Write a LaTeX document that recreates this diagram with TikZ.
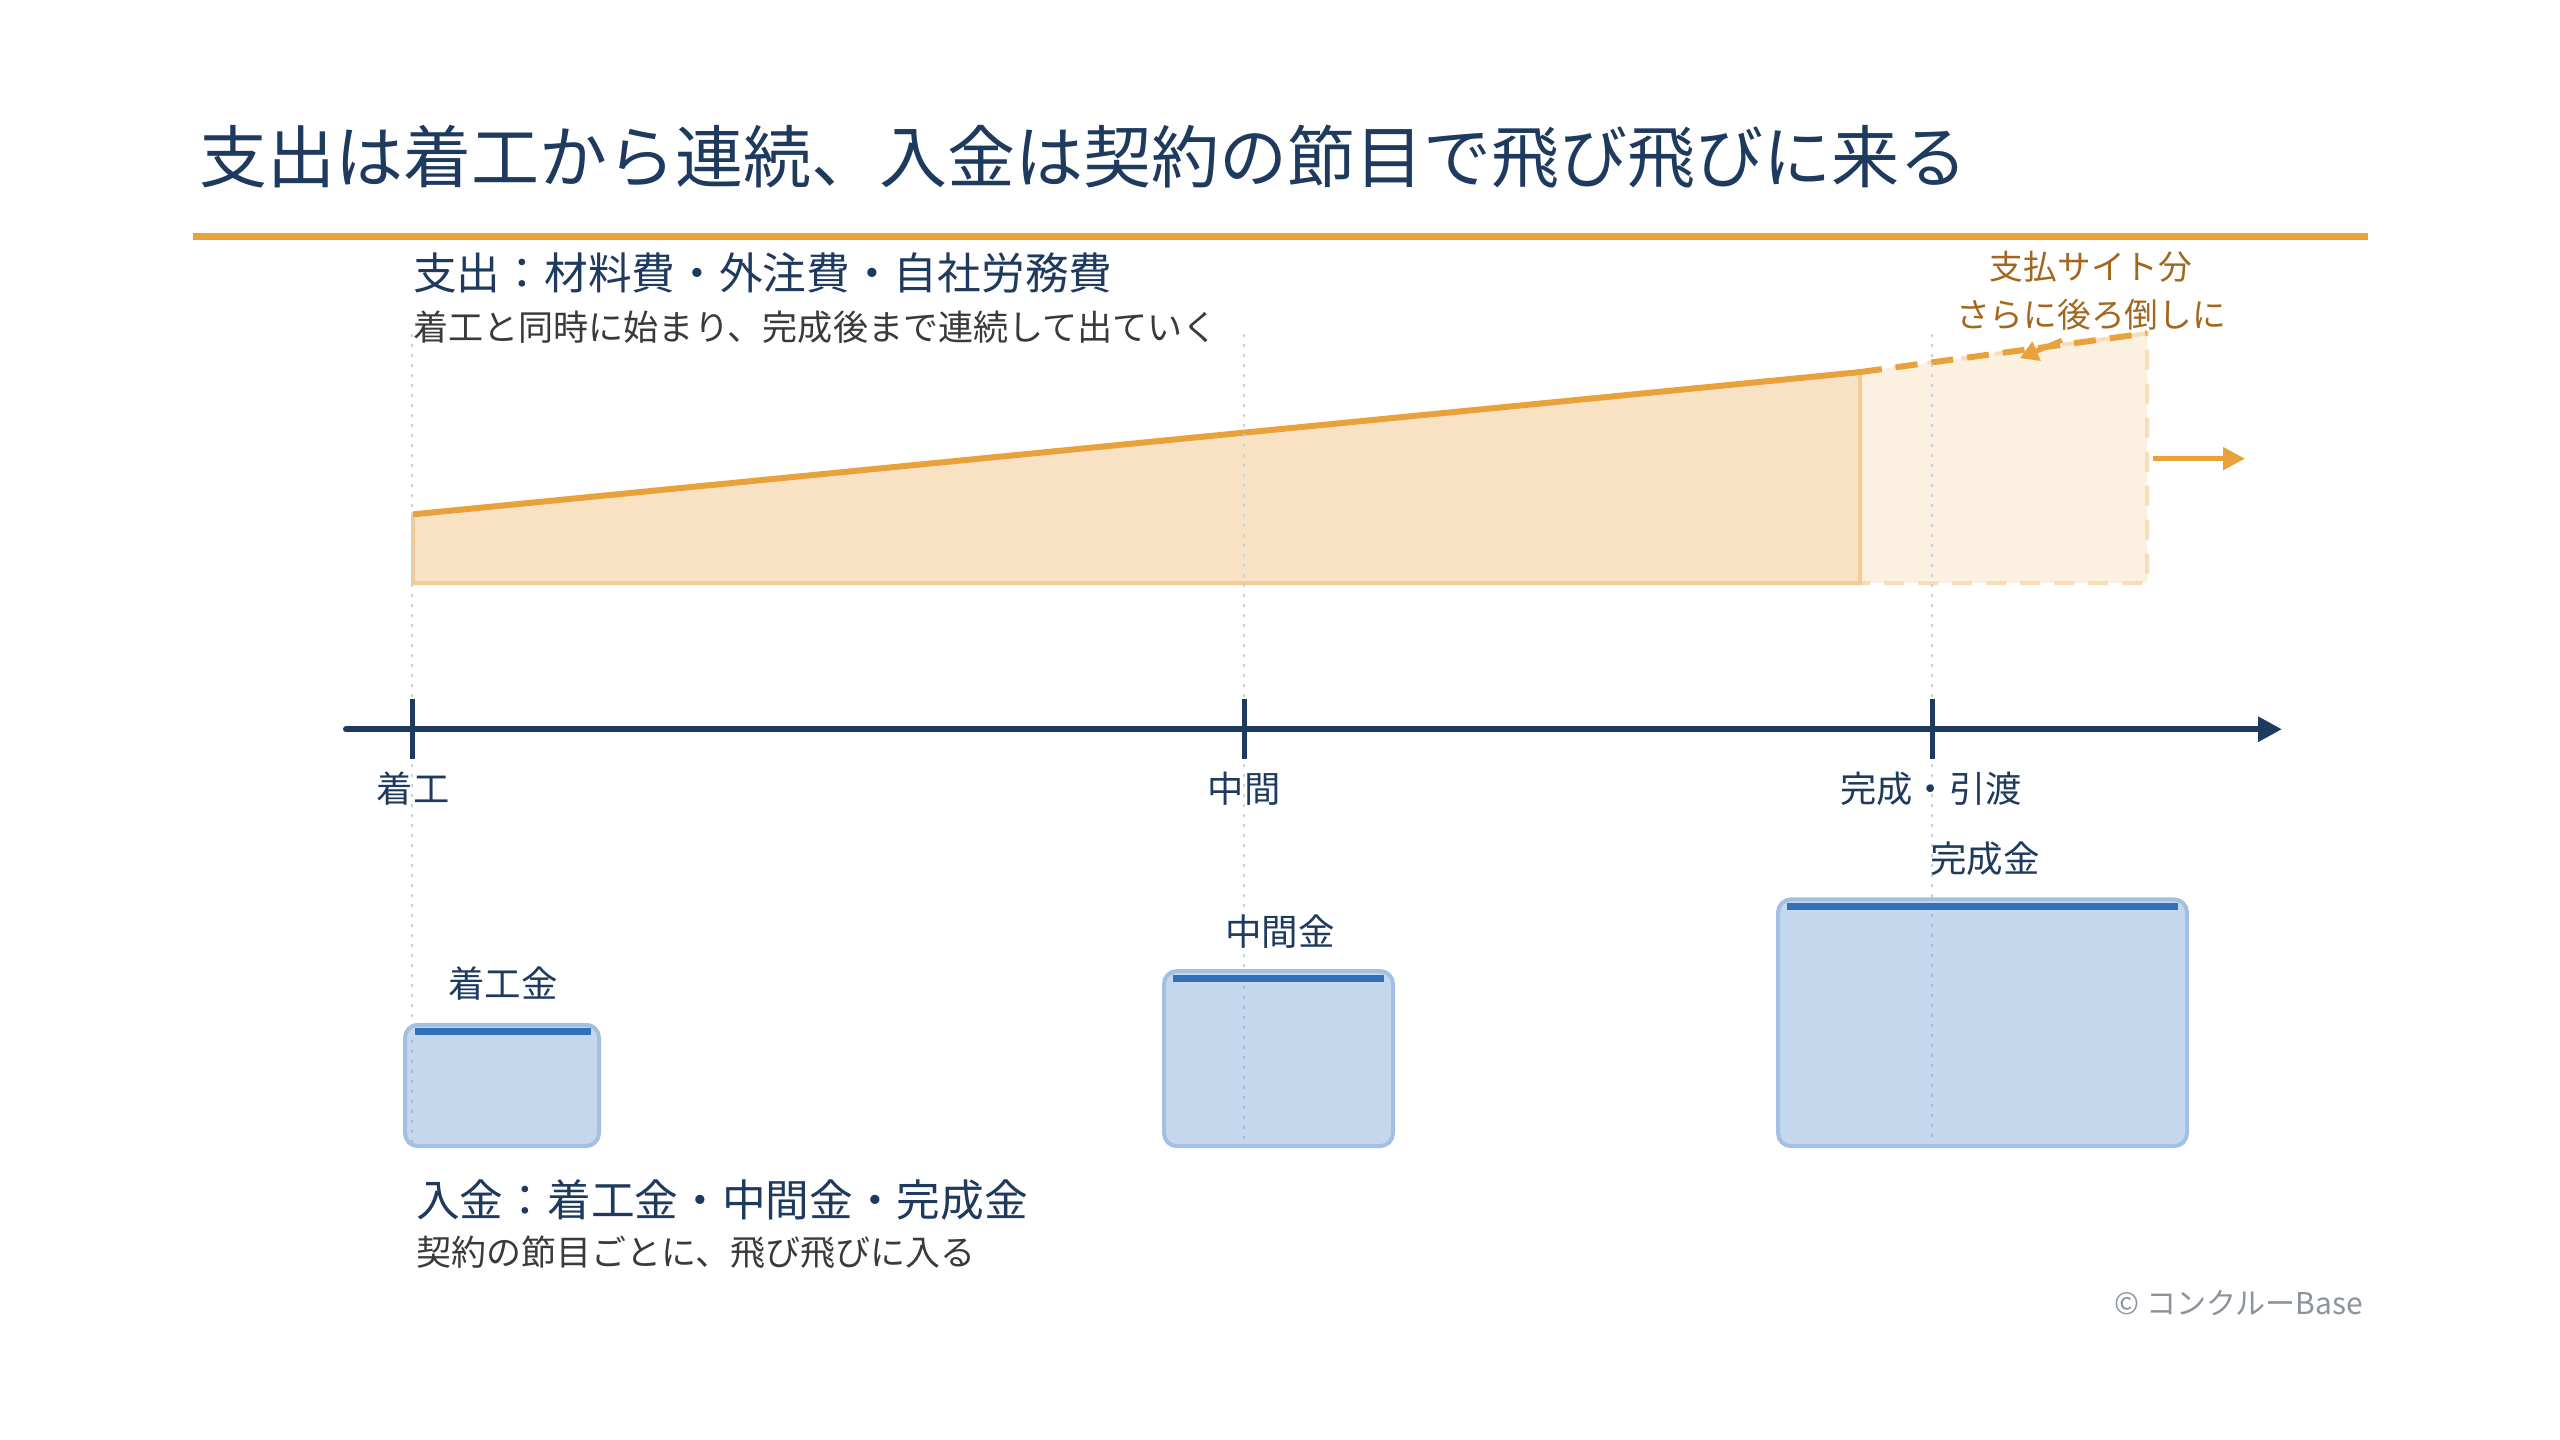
\documentclass[tikz,border=0pt]{standalone}
\usepackage{fontspec}
\setmainfont{Noto Sans CJK JP}
\usetikzlibrary{arrows.meta}
\definecolor{navy}{HTML}{1E3A5F}
\definecolor{orangeM}{HTML}{E9A23B}
\definecolor{orangeFill}{HTML}{F8E2C3}
\definecolor{orangeEdge}{HTML}{F2CB95}
\definecolor{paleFill}{HTML}{FCF0E1}
\definecolor{paleEdge}{HTML}{F8DDB8}
\definecolor{brownT}{HTML}{A2671C}
\definecolor{blueFill}{HTML}{C5D7EC}
\definecolor{blueEdge}{HTML}{A3C0E3}
\definecolor{blueBar}{HTML}{3271B8}
\definecolor{guideC}{HTML}{C9D2DF}
\definecolor{guideIn}{HTML}{A9BCD6}
\definecolor{grayT}{HTML}{3A3A3A}
\definecolor{copyC}{HTML}{8C939C}
\newcommand\myfs[1]{\fontsize{#1}{#1}\selectfont}
\tikzset{
  txt/.style={inner sep=0pt, text=navy},
  guide/.style={draw=guideC, line width=2.5pt, dash pattern=on 3pt off 7pt},
  tick/.style={draw=navy, line width=5pt},
  paybox/.style={fill=blueFill, draw=blueEdge, line width=4pt, rounded corners=13pt},
  paybar/.style={draw=blueBar, line width=7pt},
}
\begin{document}
\begin{tikzpicture}[x=1pt,y=-1pt]
\useasboundingbox[fill=white] (0,0) rectangle (2560,1440);
\begin{scope}[yscale=0.9949]
% title
\node[txt, anchor=west] (title) at (199,158) {\myfs{68}支出は着工から連続、入金は契約の節目で飛び飛びに来る};
\coordinate (hl1) at (193,238);
\coordinate (hl2) at (2368,238);
\draw[orangeM, line width=7pt] (hl1) -- (hl2);

% expense text
\node[txt, anchor=west] (exph) at (413,274) {\myfs{43.7}支出：材料費・外注費・自社労務費};
\node[txt, anchor=west, text=grayT] (exps) at (413,329) {\myfs{35.1}着工と同時に始まり、完成後まで連続して出ていく};

% expense area
\coordinate (s1) at (413,517);
\coordinate (s2) at (1860,374);
\coordinate (s3) at (1860,586);
\coordinate (s4) at (413,586);
\coordinate (d2) at (2147,335);
\coordinate (d3) at (2147,586);
\fill[paleFill] (s2) -- (d2) -- (d3) -- (s3) -- cycle;
\draw[paleEdge, line width=4pt, dash pattern=on 20pt off 14pt] (s2) -- (d2) -- (d3) -- (s3);
\draw[orangeEdge, line width=4pt, fill=orangeFill] (s1) -- (s2) -- (s3) -- (s4) -- cycle;
\draw[orangeM, line width=6pt] (s1) -- (s2);
\draw[orangeM, line width=6pt, dash pattern=on 22pt off 14pt] (s2) -- (d2);

% guides
\foreach \gx/\gn in {412/g1,1244/g2,1932/g3}{
  \coordinate (\gn t) at (\gx,336);
  \coordinate (\gn b) at (\gx,1150);
  \draw[guide] (\gn t) -- (\gn b);
}

% site note
\node[txt, text=brownT] (site1) at (2091,268) {\myfs{33.7}支払サイト分};
\node[txt, text=brownT] (site2) at (2091,316) {\myfs{33.7}さらに後ろ倒しに};
\coordinate (sa1) at (2062,342);
\coordinate (sa2) at (2020,360);
\draw[orangeM, line width=5pt, -{Triangle[length=18pt,width=20pt]}] (sa1) -- (sa2);
\coordinate (ra1) at (2153,461);
\coordinate (ra2) at (2245,461);
\draw[orangeM, line width=5pt, -{Triangle[length=22pt,width=22pt]}] (ra1) -- (ra2);

% axis
\coordinate (ax1) at (346,733);
\coordinate (ax2) at (2282,733);
\draw[navy, line width=6pt, line cap=round, -{Triangle[length=24pt,width=24pt]}] (ax1) -- (ax2);
\foreach \gx/\gn in {412/k1,1244/k2,1932/k3}{
  \coordinate (\gn t) at (\gx,703);
  \coordinate (\gn b) at (\gx,763);
  \draw[tick] (\gn t) -- (\gn b);
}
\node[txt] (lab1) at (413,793) {\myfs{36.3}着工};
\node[txt] (lab2) at (1244,793) {\myfs{36.3}中間};
\node[txt] (lab3) at (1931,793) {\myfs{36.3}完成・引渡};

% payment boxes
\draw[paybox] (405,1030) rectangle (599,1152);
\draw[paybar] (415,1037) -- (591,1037);
\node[txt] (pa) at (503,989) {\myfs{36.5}着工金};
\draw[paybox] (1164,976) rectangle (1393,1152);
\draw[paybar] (1173,983) -- (1384,983);
\node[txt] (pb) at (1280,936) {\myfs{36.5}中間金};
\draw[paybox] (1778,904) rectangle (2187,1152);
\draw[paybar] (1787,911) -- (2178,911);
\node[txt] (pc) at (1985,863) {\myfs{36.5}完成金};

% redraw guides over boxes
\foreach \gx/\gy in {412/1045,1244/991,1932/919}{
  \draw[guide, draw=guideIn] (\gx,\gy) -- (\gx,1148);
}

% income text
\node[txt, anchor=west] (inch) at (416,1206) {\myfs{43.7}入金：着工金・中間金・完成金};
\node[txt, anchor=west, text=grayT] (incs) at (416,1259) {\myfs{35}契約の節目ごとに、飛び飛びに入る};

% copyright
\node[txt, anchor=east, text=copyC] (copy) at (2363,1310) {\myfs{30}© コンクルーBase};
\end{scope}
\end{tikzpicture}
\end{document}
